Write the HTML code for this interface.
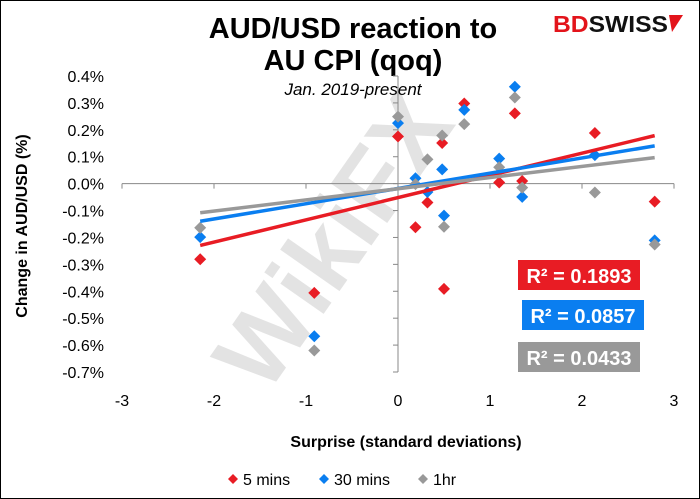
<!DOCTYPE html>
<html><head><meta charset="utf-8"><style>
body{margin:0;background:#fff}
#wrap{position:relative;width:700px;height:499px;box-sizing:border-box;border:1px solid #000;overflow:hidden;font-family:"Liberation Sans",Arial,sans-serif}
svg text{font-family:"Liberation Sans",Arial,sans-serif}
</style></head><body>
<div id="wrap">
<svg id="chart" width="700" height="499"></svg>
</div>
<script>
const xTicks=[-3,-2,-1,0,1,2,3];
const yTicks=[0.4,0.3,0.2,0.1,0.0,-0.1,-0.2,-0.3,-0.4,-0.5,-0.6,-0.7];
const surprise=[-2.15,-0.91,0.0,0.19,0.32,0.48,0.50,0.72,1.10,1.27,1.35,2.14,2.79];
const min5=[-0.281,-0.406,0.175,-0.162,-0.070,0.151,-0.391,0.298,0.004,0.261,0.010,0.188,-0.067];
const min30=[-0.199,-0.567,0.225,0.020,-0.031,0.053,-0.119,0.274,0.093,0.360,-0.049,0.106,-0.211];
const hr1=[-0.164,-0.620,0.249,-0.002,0.090,0.179,-0.160,0.221,0.061,0.320,-0.015,-0.033,-0.226];
const trendSlopes=[0.0826,0.0567,0.0415];
const trendIntercepts=[-0.052,-0.018,-0.019];
const seriesNames=["5 mins","30 mins","1hr"];
const r2Labels=["R² = 0.1893","R² = 0.0857","R² = 0.0433"];

const NS="http://www.w3.org/2000/svg";
const svg=document.getElementById('chart');
const X0=121,X1=673,Y0=75,Y1=371;
const xs=v=>X0+(v+3)/6*(X1-X0);
const ys=v=>Y0+(0.4-v)/1.1*(Y1-Y0);
function mk(tag,at,parent){const e=document.createElementNS(NS,tag);for(const k in at)e.setAttribute(k,at[k]);(parent||svg).appendChild(e);return e;}

// watermark
const wm=mk('g',{opacity:'0.13',transform:'rotate(-55 330 250)'});


const wt=mk('text',{x:340,y:280,'font-size':'100','font-weight':'bold','text-anchor':'middle',fill:'#333'},wm);
wt.textContent='WikiFX';

// title
const t1=mk('text',{x:352,y:37,'font-size':'29','font-weight':'bold','text-anchor':'middle',fill:'#000'});

t1.textContent='AUD/USD reaction to';
const t2=mk('text',{x:352,y:69,'font-size':'29','font-weight':'bold','text-anchor':'middle',fill:'#000'});

t2.textContent='AU CPI (qoq)';
const st=mk('text',{x:352,y:94,'font-size':'17','font-style':'italic','text-anchor':'middle',fill:'#000'});

st.textContent='Jan. 2019-present';
// logo
const lg=mk('text',{x:552,y:31,'font-size':'23','font-weight':'bold','textLength':'115','lengthAdjust':'spacingAndGlyphs'});

const a=mk('tspan',{fill:'#e3141b'},lg);a.textContent='BD';
const b=mk('tspan',{fill:'#111'},lg);b.textContent='SWISS';
mk('polygon',{points:'668,14 682,14 671,31',fill:'#e3141b'});

// axes
const zy=ys(0),zx=xs(0);
const xa=mk('line',{x1:X0,y1:zy,x2:X1,y2:zy,stroke:'#888','stroke-width':1});

xTicks.forEach(t=>{
  mk('line',{x1:xs(t),y1:zy,x2:xs(t),y2:zy+5,stroke:'#888'});
  const tx=mk('text',{x:xs(t),y:405,'font-size':'16','text-anchor':'middle',fill:'#000'});
  
  tx.textContent=String(t);
});
const ya=mk('line',{x1:zx,y1:Y0,x2:zx,y2:Y1,stroke:'#888','stroke-width':1});

yTicks.forEach(t=>{
  mk('line',{x1:zx-5,y1:ys(t),x2:zx,y2:ys(t),stroke:'#888'});
  const tx=mk('text',{x:103,y:ys(t)+6,'font-size':'16','text-anchor':'end',fill:'#000'});
  
  tx.textContent=t.toFixed(1)+'%';
});
const yt=mk('text',{x:0,y:0,'font-size':'16','font-weight':'bold','text-anchor':'middle',transform:'translate(26 225) rotate(-90)'});

yt.textContent='Change in AUD/USD (%)';
const xt=mk('text',{x:405,y:446,'font-size':'16','font-weight':'bold','text-anchor':'middle'});

xt.textContent='Surprise (standard deviations)';

const colors=['#e81c24','#0a7ef0','#999999'];
const all=[min5,min30,hr1];
function diamond(cx,cy,c,g){return mk('polygon',{points:`${cx},${cy-6} ${cx+6},${cy} ${cx},${cy+6} ${cx-6},${cy}`,fill:c},g);}
[0,1,2].forEach(i=>{
  const g=mk('g',{});
  
  
  all[i].forEach((v,j)=>{
    const p=diamond(xs(surprise[j]),ys(v),colors[i],g);
    
    
  });
});
// trendlines
const xmin=Math.min(...surprise),xmax=Math.max(...surprise);
[0,1,2].forEach(i=>{
  const m=trendSlopes[i],c=trendIntercepts[i];
  const l=mk('line',{x1:xs(xmin),y1:ys(m*xmin+c),x2:xs(xmax),y2:ys(m*xmax+c),stroke:colors[i],'stroke-width':3.5});
  
  
});
// R2 boxes
const boxes=[[517,259],[521,299],[517,341]];
[0,1,2].forEach(i=>{
  const g=mk('g',{});
  
  
  mk('rect',{x:boxes[i][0],y:boxes[i][1],width:122,height:30,fill:i==2?'#999':colors[i]},g);
  const tx=mk('text',{x:boxes[i][0]+61,y:boxes[i][1]+23,'font-size':'20','font-weight':'bold','text-anchor':'middle',fill:'#fff'},g);
  tx.textContent=r2Labels[i];
});
// legend
const lx=[232,323,422];
[0,1,2].forEach(i=>{
  const g=mk('g',{});
  
  
  mk('polygon',{points:`${lx[i]},${473} ${lx[i]+5},${478} ${lx[i]},${483} ${lx[i]-5},${478}`,fill:colors[i]},g);
  const tx=mk('text',{x:lx[i]+10,y:484,'font-size':'16',fill:'#000'},g);
  tx.textContent=seriesNames[i];
});
</script>
</body></html>
